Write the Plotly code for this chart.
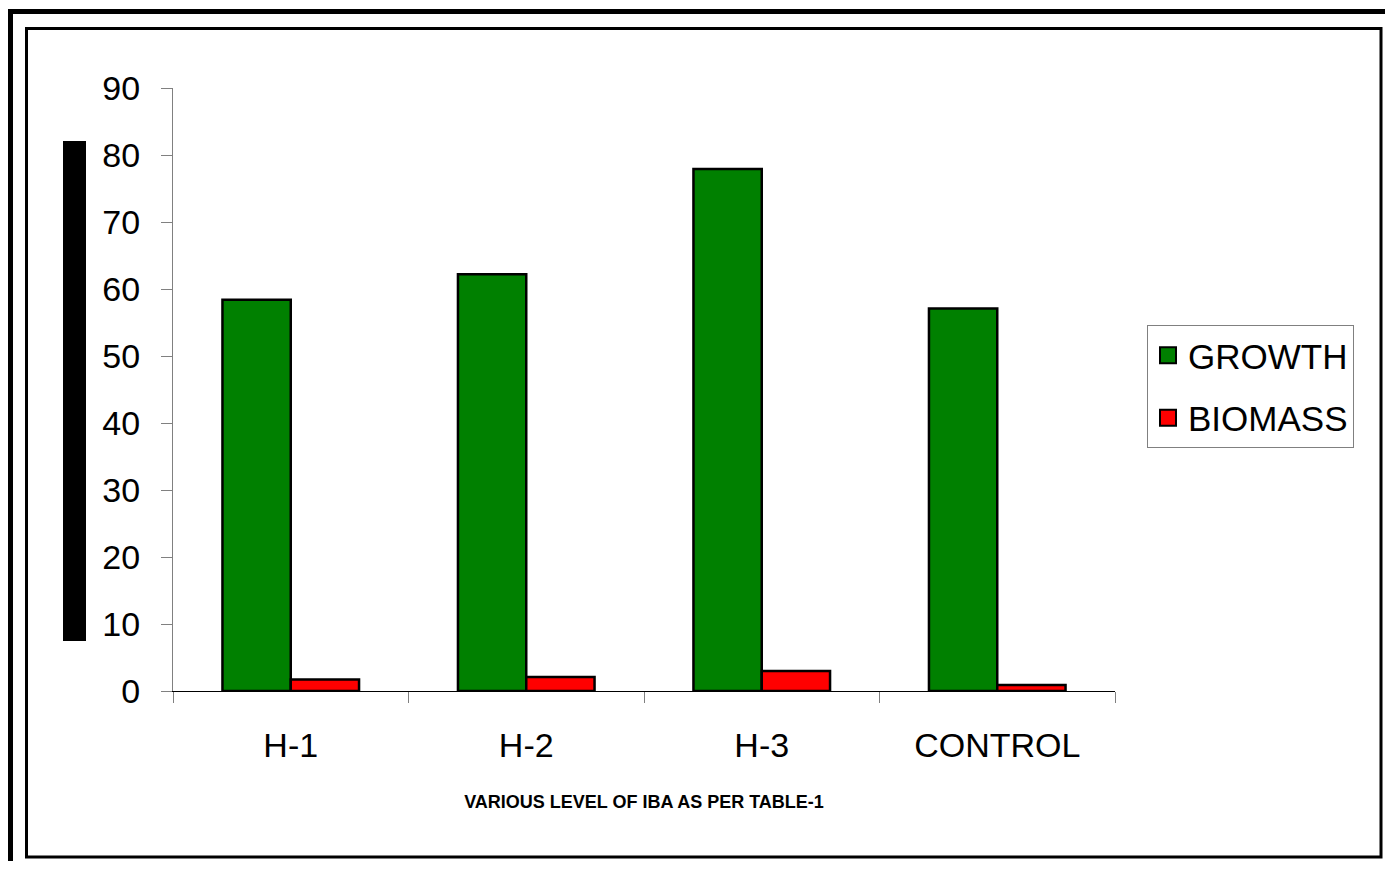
import plotly.graph_objects as go

categories = ["H-1", "H-2", "H-3", "CONTROL"]
growth = [58.4, 62.2, 77.9, 57.1]
biomass = [1.7, 2.1, 3.0, 0.9]
y_ticks = [0, 10, 20, 30, 40, 50, 60, 70, 80, 90]
series_names = ["GROWTH", "BIOMASS"]
series_colors = ["#008000", "#FF0000"]

FONT = "Liberation Sans, Arial, sans-serif"
OFF = 8  # browser body margin
W, H = 1393 - 2 * OFF, 869 - 2 * OFF
# plot area in page pixels
PX0, PX1, PY0, PY1 = 173, 1115, 88, 691
L, R, T, B = PX0 - OFF, W - (PX1 - OFF), PY0 - OFF, H - (PY1 - OFF)
PW, PH = PX1 - PX0, PY1 - PY0


def px(x):
    return (x - PX0) / PW


def py(y):
    return 1 - (y - PY0) / PH


fig = go.Figure()
for name, vals, col in zip(series_names, [growth, biomass], series_colors):
    fig.add_trace(go.Bar(name=name, x=categories, y=vals, showlegend=False,
                         marker=dict(color=col, line=dict(color="black", width=2.5))))
# legend entries with larger square swatches
for i, (name, col) in enumerate(zip(series_names, series_colors)):
    fig.add_trace(go.Scatter(name=name, x=[None], y=[None], mode="markers",
                             legendgroup=f"g{i}",
                             marker=dict(symbol="square", size=16, color=col,
                                         line=dict(color="black", width=2))))

shapes = [
    dict(type="rect", xref="paper", yref="paper", x0=px(10.5), x1=px(1420), y0=py(11.5), y1=py(900),
         line=dict(color="black", width=5), fillcolor="rgba(0,0,0,0)", layer="below"),
    dict(type="rect", xref="paper", yref="paper", x0=px(26.5), x1=px(1381), y0=py(28.5), y1=py(857),
         line=dict(color="black", width=3), fillcolor="rgba(0,0,0,0)", layer="below"),
    dict(type="rect", xref="paper", yref="paper", x0=px(63), x1=px(86), y0=py(141), y1=py(641),
         line=dict(width=0), fillcolor="black"),
]

fig.update_layout(
    width=W, height=H,
    margin=dict(l=L, r=R, t=T, b=B, autoexpand=False),
    paper_bgcolor="white", plot_bgcolor="white",
    barmode="group", bargap=0.42, bargroupgap=0,
    font=dict(family=FONT, color="black", size=34),
    shapes=shapes,
    showlegend=True,
    legend=dict(x=px(1147), y=py(325), xanchor="left", yanchor="top",
                bordercolor="#808080", borderwidth=1, bgcolor="white",
                font=dict(size=35, family=FONT), traceorder="grouped", tracegroupgap=14,
                itemwidth=30),
    xaxis=dict(
        showline=True, linecolor="black", linewidth=1,
        ticks="outside", ticklen=11, tickcolor="#808080", tickwidth=1,
        tickson="boundaries", showgrid=False,
        tickfont=dict(size=34, family=FONT), ticklabelstandoff=24,
        title=dict(text="VARIOUS LEVEL OF IBA AS PER TABLE-1",
                   font=dict(size=18, family=FONT, weight="bold"), standoff=32),
    ),
    yaxis=dict(
        range=[0, 90], tickvals=y_ticks, showline=True, linecolor="#808080", linewidth=1,
        ticks="outside", ticklen=11, tickcolor="#808080", tickwidth=1,
        showgrid=False, zeroline=False,
        tickfont=dict(size=34, family=FONT), ticklabelstandoff=14,
    ),
)

fig.write_html("out.html")
